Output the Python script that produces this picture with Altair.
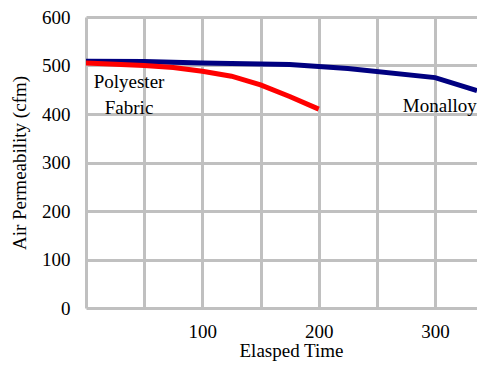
import altair as alt
import pandas as pd

# Data
mon_time = [0, 50, 100, 150, 175, 225, 300, 336]
mon_perm = [509, 508, 505, 503, 502, 494, 475, 448]

poly_time = [0, 50, 75, 100, 125, 150, 175, 200]
poly_perm = [505, 500, 496, 488, 478, 460, 436, 410]

label_text = ["Polyester", "Fabric", "Monalloy"]
label_time = [37, 37, 304]
label_perm = [466, 412, 416]

x_grid = [0, 50, 100, 150, 200, 250, 300]
y_ticks = [0, 100, 200, 300, 400, 500, 600]

FONT = "Liberation Serif"

mon = pd.DataFrame({"t": mon_time, "p": mon_perm, "s": "Monalloy"})
poly = pd.DataFrame({"t": poly_time, "p": poly_perm, "s": "Polyester Fabric"})
lines = pd.concat([mon, poly])
labels = pd.DataFrame({"t": label_time, "p": label_perm, "txt": label_text})

xs = alt.Scale(domain=[0, 336], nice=False, zero=False)
ys = alt.Scale(domain=[0, 600], nice=False)

xaxis = alt.Axis(values=x_grid, title="Elasped Time",
                 labelExpr="datum.value % 100 == 0 && datum.value > 0 ? datum.label : ''",
                 labelPadding=14, titleX=205, titleY=48, titleBaseline="alphabetic",
                 titleAlign="center")
yaxis = alt.Axis(values=y_ticks, title="Air Permeability (cfm)",
                 labelPadding=16, titlePadding=12)

line = alt.Chart(lines).mark_line(strokeWidth=5, clip=True).encode(
    x=alt.X("t:Q", scale=xs, axis=xaxis),
    y=alt.Y("p:Q", scale=ys, axis=yaxis),
    color=alt.Color("s:N", scale=alt.Scale(domain=["Monalloy", "Polyester Fabric"],
                                           range=["#000080", "#FF0000"]), legend=None),
    order="t:Q",
)

text = alt.Chart(labels).mark_text(font=FONT, fontSize=19, color="#000000").encode(
    x=alt.X("t:Q", scale=xs),
    y=alt.Y("p:Q", scale=ys),
    text="txt:N",
)

chart = alt.layer(line, text).properties(
    width=391, height=291,
    background="white",
    autosize=alt.AutoSizeParams(type="none"),
    padding={"left": 78, "top": 9, "right": 0, "bottom": 55},
).configure_axis(
    grid=True, gridColor="#C0C0C0", gridWidth=3, gridOpacity=1,
    domain=False, ticks=False,
    labelFont=FONT, labelFontSize=19, labelColor="#000000",
    titleFont=FONT, titleFontSize=19, titleFontWeight="normal", titleColor="#000000",
).configure_view(stroke=None)

chart.save("out.html", embed_options={"renderer": "svg", "actions": False})
